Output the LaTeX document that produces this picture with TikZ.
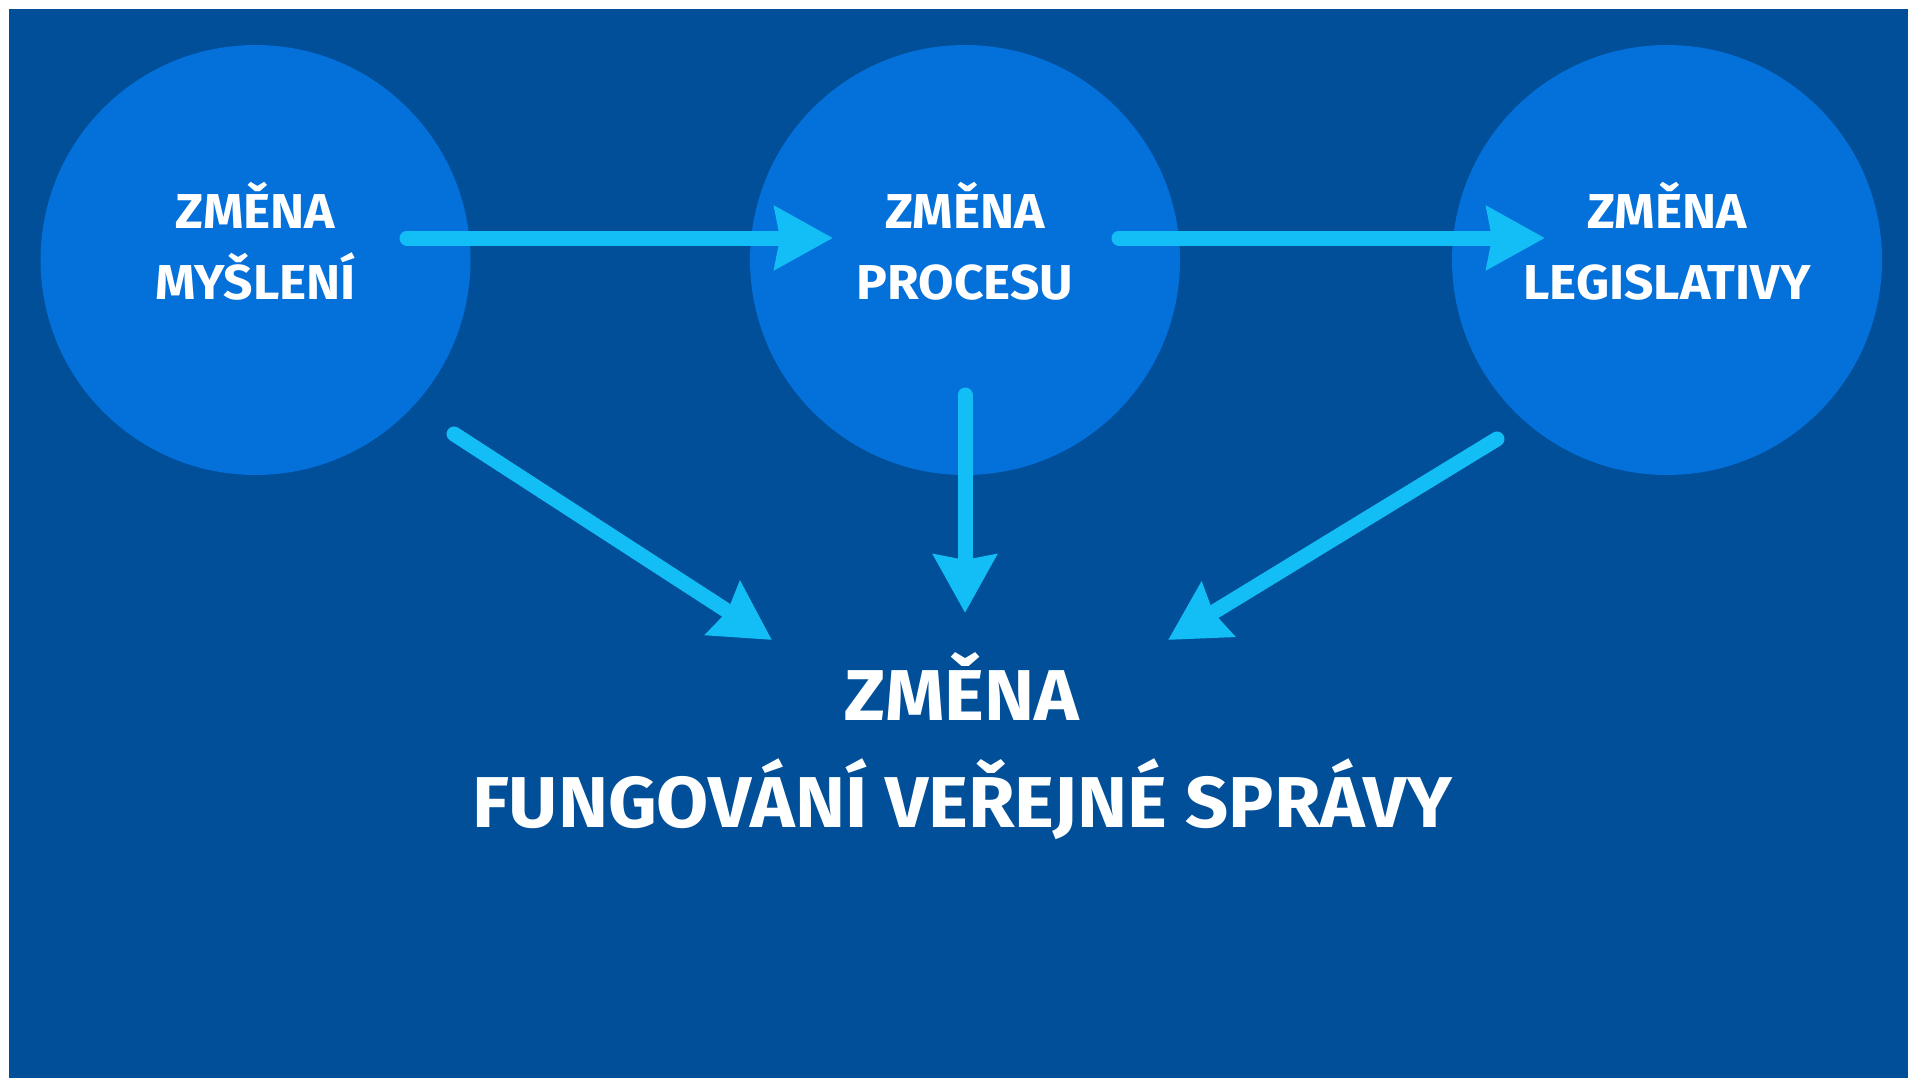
\documentclass[tikz,border=0pt]{standalone}
\usepackage{fontspec}
\setmainfont{Fira Sans}[BoldFont=* Bold,FakeStretch=1.05]
\usetikzlibrary{arrows.meta}
\definecolor{bgblue}{RGB}{0,79,152}
\definecolor{circblue}{RGB}{4,112,218}
\definecolor{arrcyan}{RGB}{18,190,245}
\begin{document}
\begin{tikzpicture}[x=1pt,y=-1pt,
  bubble/.style={circle,fill=circblue,draw=none,minimum size=430pt,inner sep=0pt},
  smalltxt/.style={anchor=base,text=white,inner sep=0pt,font=\bfseries\fontsize{49}{58}\selectfont},
  bigtxt/.style={anchor=base,text=white,inner sep=0pt,font=\bfseries\fontsize{72}{84}\selectfont},
  flow/.style={draw=arrcyan,line width=15pt,line cap=round,-{Stealth[length=58pt,width=62pt,inset=5pt]}}]
\useasboundingbox (0,0) rectangle (1908,1078);
\fill[white] (0,0) rectangle (1908,1078);
\fill[bgblue] (9,9) rectangle (1908,1078);
\node[bubble] (c1) at (255.5,260) {};
\node[bubble] (c2) at (965,260) {};
\node[bubble] (c3) at (1667,260) {};
\node[smalltxt] (t1a) at (255.5,229) {ZMĚNA};
\node[smalltxt] (t1b) at (255.5,299) {MYŠLENÍ};
\node[smalltxt] (t2a) at (965,229) {ZMĚNA};
\node[smalltxt] (t2b) at (965,299) {PROCESU};
\node[smalltxt] (t3a) at (1667,229) {ZMĚNA};
\node[smalltxt] (t3b) at (1667,299) {LEGISLATIVY};
\node[bigtxt] (ba) at (962,720) {ZMĚNA};
\node[bigtxt] (bb) at (962,827) {FUNGOVÁNÍ VEŘEJNÉ SPRÁVY};
\coordinate (s1) at (407,238);
\coordinate (e1) at (833,238);
\coordinate (s2) at (1119,238);
\coordinate (e2) at (1545,238);
\coordinate (s3) at (965,395);
\coordinate (e3) at (965,613);
\coordinate (s4) at (454,434);
\coordinate (e4) at (772,640);
\coordinate (s5) at (1497,439);
\coordinate (e5) at (1168,640);
\draw[flow] (s1) -- (e1);
\draw[flow] (s2) -- (e2);
\draw[flow] (s3) -- (e3);
\draw[flow] (s4) -- (e4);
\draw[flow] (s5) -- (e5);
\end{tikzpicture}
\end{document}
